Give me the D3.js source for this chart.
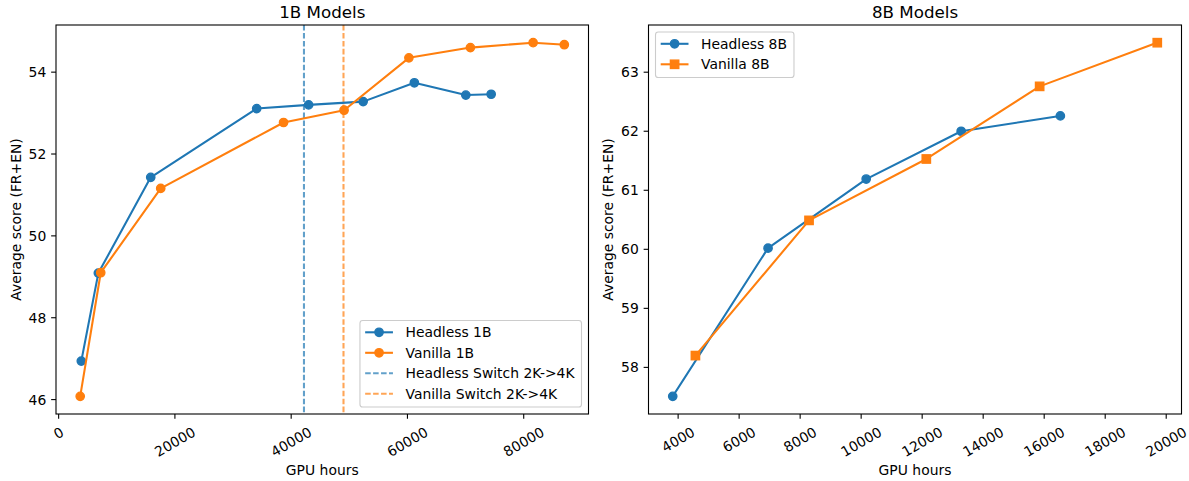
<!DOCTYPE html>
<html>
<head>
<meta charset="utf-8">
<script src="https://cdn.jsdelivr.net/npm/d3@7"></script>
<style>
  html, body { margin: 0; padding: 0; background: #fff; }
  svg { display: block; font-family: "DejaVu Sans", sans-serif; }
</style>
</head>
<body>
<svg id="chart" width="1189" height="481"></svg>
<script>
// ---- 1B models ----
const headless1bHours = [3900, 6830, 15840, 34070, 43000, 52380, 61190, 70040, 74400];
const headless1bScore = [46.94, 49.09, 51.43, 53.11, 53.20, 53.28, 53.74, 53.44, 53.46];
const vanilla1bHours  = [3710, 7240, 17560, 38690, 49100, 60250, 70830, 81620, 86980];
const vanilla1bScore  = [46.08, 49.10, 51.16, 52.77, 53.07, 54.35, 54.60, 54.72, 54.67];
const headlessSwitch1b = 42200;
const vanillaSwitch1b  = 49000;
const ticksX1b = [0, 20000, 40000, 60000, 80000];
const ticksY1b = [46, 48, 50, 52, 54];

// ---- 8B models ----
const headless8bHours = [3823, 6948, 10165, 13278, 16530];
const headless8bScore = [57.51, 60.02, 61.19, 62.00, 62.26];
const vanilla8bHours  = [4567, 8291, 12136, 15851, 19707];
const vanilla8bScore  = [58.20, 60.49, 61.53, 62.76, 63.50];
const ticksX8b = [4000, 6000, 8000, 10000, 12000, 14000, 16000, 18000, 20000];
const ticksY8b = [58, 59, 60, 61, 62, 63];

const BLUE = "#1f77b4", ORANGE = "#ff7f0e";
const FS = 13.9;            // 10pt at 100 dpi
const TICK = 4.86, PAD = 4.86;

const svg = d3.select("#chart");

function paddedExtent(values) {
  const [lo, hi] = d3.extent(values);
  const m = (hi - lo) * 0.05;
  return [lo - m, hi + m];
}

function drawPanel(cfg) {
  const { left, right, top, bottom } = cfg.box;
  const x = d3.scaleLinear().domain(paddedExtent(cfg.series.flatMap(s => s.x))).range([left, right]);
  const y = d3.scaleLinear().domain(paddedExtent(cfg.series.flatMap(s => s.y))).range([bottom, top]);
  const g = svg.append("g");

  // clip region for data
  const clipId = "clip-" + cfg.id;
  svg.append("clipPath").attr("id", clipId)
    .append("rect").attr("x", left).attr("y", top).attr("width", right - left).attr("height", bottom - top);

  const plot = g.append("g").attr("clip-path", `url(#${clipId})`);

  // switch markers (vertical dashed lines)
  (cfg.vlines || []).forEach(v => {
    plot.append("line")
      .attr("x1", x(v.x)).attr("x2", x(v.x))
      .attr("y1", top).attr("y2", bottom)
      .attr("stroke", v.color).attr("stroke-opacity", 0.7)
      .attr("stroke-width", 2.08).attr("stroke-dasharray", "5.55,2.4");
  });

  // series lines and markers
  cfg.series.forEach(s => {
    const pts = s.x.map((d, i) => [d, s.y[i]]);
    plot.append("path")
      .attr("d", d3.line().x(d => x(d[0])).y(d => y(d[1]))(pts))
      .attr("fill", "none").attr("stroke", s.color)
      .attr("stroke-width", 2.08).attr("stroke-linejoin", "round").attr("stroke-linecap", "square");
    drawMarkers(plot, pts.map(p => [x(p[0]), y(p[1])]), s.marker, s.color);
  });

  // spines
  g.append("rect")
    .attr("x", left).attr("y", top).attr("width", right - left).attr("height", bottom - top)
    .attr("fill", "none").attr("stroke", "#000").attr("stroke-width", 1.1);

  // x axis
  const xa = g.append("g");
  cfg.ticksX.forEach(t => {
    const px = x(t);
    xa.append("line").attr("x1", px).attr("x2", px).attr("y1", bottom).attr("y2", bottom + TICK)
      .attr("stroke", "#000").attr("stroke-width", 1.1);
    const txt = xa.append("text").text(d3.format("d")(t))
      .attr("font-size", FS).attr("text-anchor", "middle").attr("dominant-baseline", "central");
    const w = txt.node().getComputedTextLength();
    const h = FS * 1.16;
    const bh = w * Math.sin(Math.PI / 6) + h * Math.cos(Math.PI / 6);
    const cy = bottom + TICK + PAD + bh / 2;
    txt.attr("transform", `translate(${px},${cy}) rotate(-30)`);
  });
  g.append("text").text("GPU hours")
    .attr("x", (left + right) / 2).attr("y", 469.5)
    .attr("font-size", FS).attr("text-anchor", "middle").attr("dominant-baseline", "central");

  // y axis
  const ya = g.append("g");
  cfg.ticksY.forEach(t => {
    const py = y(t);
    ya.append("line").attr("x1", left - TICK).attr("x2", left).attr("y1", py).attr("y2", py)
      .attr("stroke", "#000").attr("stroke-width", 1.1);
    ya.append("text").text(t)
      .attr("x", left - TICK - PAD).attr("y", py)
      .attr("font-size", FS).attr("text-anchor", "end").attr("dominant-baseline", "central");
  });
  g.append("text").text("Average score (FR+EN)")
    .attr("transform", `translate(${cfg.ylabelX},${(top + bottom) / 2}) rotate(-90)`)
    .attr("font-size", FS).attr("text-anchor", "middle").attr("dominant-baseline", "central");

  // title
  g.append("text").text(cfg.title)
    .attr("x", (left + right) / 2).attr("y", 12)
    .attr("font-size", 16.7).attr("text-anchor", "middle").attr("dominant-baseline", "central");

  drawLegend(g, cfg);
}

function drawMarkers(sel, pts, marker, color) {
  const size = 8.33;
  if (marker === "square") {
    sel.selectAll(null).data(pts).enter().append("rect")
      .attr("x", d => d[0] - size / 2).attr("y", d => d[1] - size / 2)
      .attr("width", size).attr("height", size)
      .attr("fill", color).attr("stroke", color).attr("stroke-width", 1.39);
  } else {
    sel.selectAll(null).data(pts).enter().append("circle")
      .attr("cx", d => d[0]).attr("cy", d => d[1]).attr("r", size / 2)
      .attr("fill", color).attr("stroke", color).attr("stroke-width", 1.39);
  }
}

function drawLegend(g, cfg) {
  const { left, right, top, bottom } = cfg.box;
  const entries = cfg.series.map(s => ({ label: s.label, color: s.color, marker: s.marker, dashed: false }))
    .concat((cfg.vlines || []).map(v => ({ label: v.label, color: v.color, marker: null, dashed: true })));
  const rowGap = 20.5;
  const lg = g.append("g");
  const frame = lg.append("rect");
  const labels = entries.map(e => lg.append("text").text(e.label)
    .attr("font-size", FS).attr("dominant-baseline", "central"));
  const maxW = d3.max(labels, t => t.node().getComputedTextLength());
  const boxW = 45.5 + maxW + 7;
  const boxH = 11.8 + rowGap * (entries.length - 1) + 13.2;
  let bx, by;
  if (cfg.legendLoc === "lower right") {
    bx = right - 7 - boxW; by = bottom - 7 - boxH;
  } else {
    bx = left + 7; by = top + 7;
  }
  frame.attr("x", bx).attr("y", by).attr("width", boxW).attr("height", boxH)
    .attr("rx", 2.8).attr("ry", 2.8)
    .attr("fill", "#fff").attr("fill-opacity", 0.8)
    .attr("stroke", "#cccccc").attr("stroke-width", 1.1);
  entries.forEach((e, i) => {
    const cy = by + 11.8 + rowGap * i;
    const hx0 = bx + 5.2, hx1 = hx0 + 27.8;
    lg.append("line").attr("x1", hx0).attr("x2", hx1).attr("y1", cy).attr("y2", cy)
      .attr("stroke", e.color).attr("stroke-width", 2.08)
      .attr("stroke-opacity", e.dashed ? 0.7 : 1)
      .attr("stroke-dasharray", e.dashed ? "5.55,2.4" : null);
    if (e.marker) drawMarkers(lg, [[(hx0 + hx1) / 2, cy]], e.marker, e.color);
    labels[i].attr("x", bx + 45.5).attr("y", cy);
  });
}

drawPanel({
  id: "p1b",
  title: "1B Models",
  box: { left: 56, right: 588.5, top: 25, bottom: 414 },
  ylabelX: 15.5,
  ticksX: ticksX1b, ticksY: ticksY1b,
  legendLoc: "lower right",
  series: [
    { label: "Headless 1B", x: headless1bHours, y: headless1bScore, color: BLUE, marker: "circle" },
    { label: "Vanilla 1B", x: vanilla1bHours, y: vanilla1bScore, color: ORANGE, marker: "circle" }
  ],
  vlines: [
    { label: "Headless Switch 2K->4K", x: headlessSwitch1b, color: BLUE },
    { label: "Vanilla Switch 2K->4K", x: vanillaSwitch1b, color: ORANGE }
  ]
});

drawPanel({
  id: "p8b",
  title: "8B Models",
  box: { left: 648.5, right: 1181.5, top: 25, bottom: 414 },
  ylabelX: 607.5,
  ticksX: ticksX8b, ticksY: ticksY8b,
  legendLoc: "upper left",
  series: [
    { label: "Headless 8B", x: headless8bHours, y: headless8bScore, color: BLUE, marker: "circle" },
    { label: "Vanilla 8B", x: vanilla8bHours, y: vanilla8bScore, color: ORANGE, marker: "square" }
  ]
});
</script>
</body>
</html>
